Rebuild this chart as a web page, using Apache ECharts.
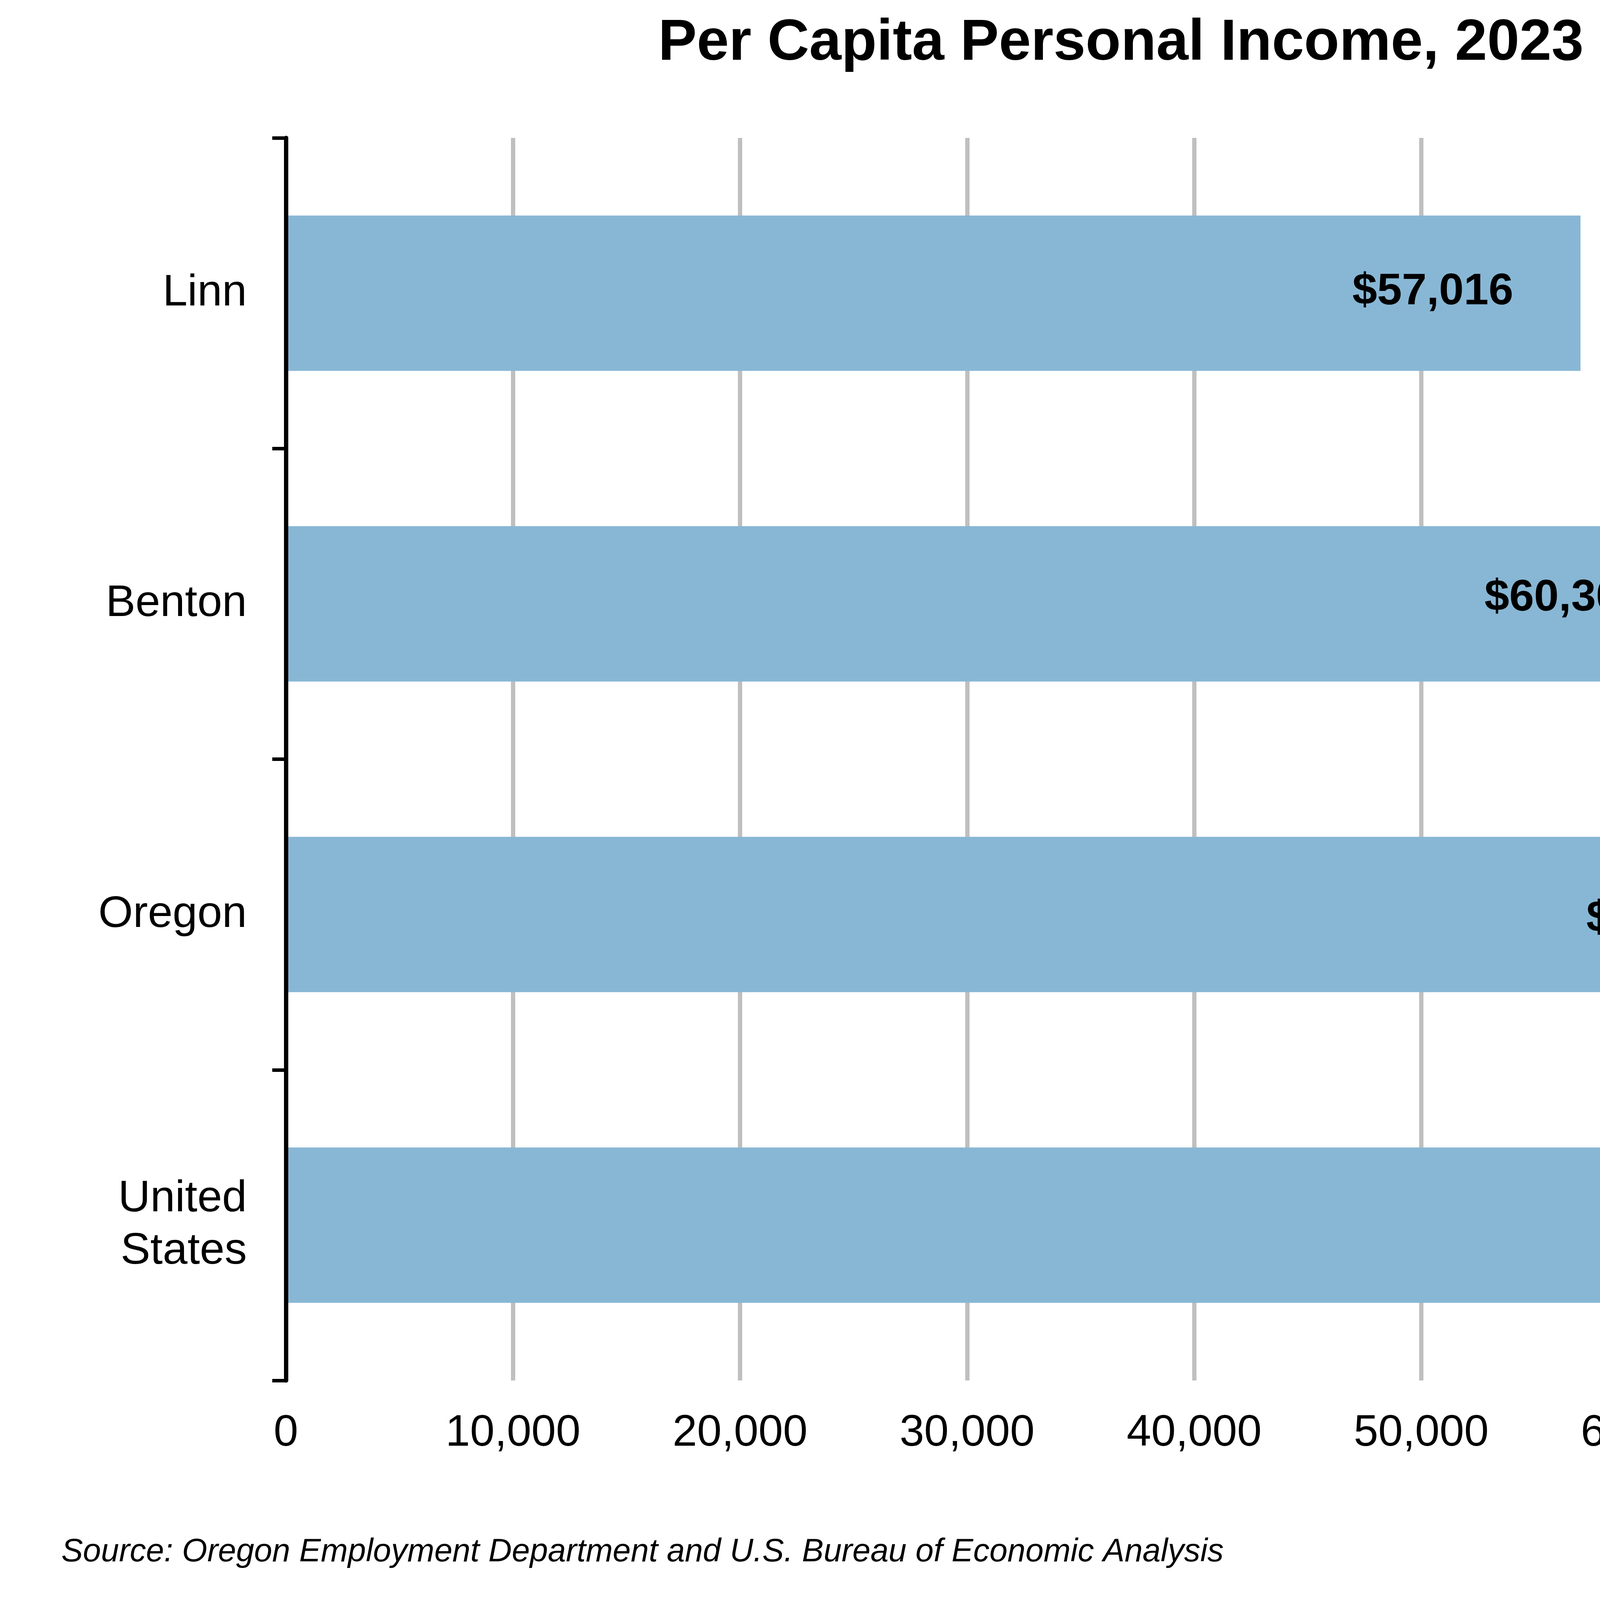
<!DOCTYPE html>
<html>
<head>
<meta charset="utf-8">
<title>Per Capita Personal Income, 2023</title>
<script src="https://cdn.jsdelivr.net/npm/echarts@6/dist/echarts.min.js"></script>
<style>
    html, body { margin: 0; padding: 0; background: #fff; }
    #incomeChart { width: 5683px; height: 4113px; }
</style>
</head>
<body>
<div id="incomeChart"></div>
<script>
// data
var areaNames = ['Linn', 'Benton', 'Oregon', 'United States'];
var incomeValues = [57016, 60307, 67838, 69810];
var xTickValues = [0, 10000, 20000, 30000, 40000, 50000, 60000, 70000, 80000];

// label nudges (the source placed each value label by hand)
var labelGap = [172, 25, 202, 168];
var labelDy = [-3, -14, 12, -1];

var fontName = 'Liberation Sans, Arial, sans-serif';
var barColor = '#88B7D5';

var incomeChart = echarts.init(document.getElementById('incomeChart'));

var barData = incomeValues.map(function (v, i) {
    return {
        value: v,
        label: { offset: [-labelGap[i], labelDy[i]] }
    };
});

incomeChartOption = {
    backgroundColor: '#ffffff',
    animation: false,
    title: {
        text: 'Per Capita Personal Income, 2023',
        left: 1680,
        top: 33,
        textStyle: {
            fontFamily: fontName,
            fontSize: 148,
            fontWeight: 'bold',
            color: '#000'
        }
    },
    grid: {
        left: 732,
        right: 301,
        top: 353,
        bottom: 579,
        containLabel: false
    },
    xAxis: {
        type: 'value',
        min: xTickValues[0],
        max: xTickValues[xTickValues.length - 1],
        interval: xTickValues[1] - xTickValues[0],
        axisLine: { show: false },
        axisTick: { show: false },
        axisLabel: {
            margin: 79,
            fontFamily: fontName,
            fontSize: 113,
            color: '#000',
            formatter: function (v) {
                return v.toLocaleString('en-US');
            }
        },
        splitLine: {
            show: true,
            lineStyle: { color: '#BFBFBF', width: 11 }
        }
    },
    yAxis: {
        type: 'category',
        data: areaNames,
        inverse: true,
        z: 5,
        axisLine: {
            show: true,
            lineStyle: { color: '#000', width: 11 }
        },
        axisTick: {
            show: true,
            inside: false,
            length: 35,
            lineStyle: { color: '#000', width: 9 }
        },
        axisLabel: {
            margin: 100,
            fontFamily: fontName,
            fontSize: 114,
            lineHeight: 134,
            color: '#000',
            formatter: function (v) {
                return v.replace(' ', '\n');
            }
        },
        splitLine: { show: false }
    },
    series: [
        {
            name: 'Per capita income',
            type: 'bar',
            barWidth: '50%',
            itemStyle: { color: barColor },
            label: {
                show: true,
                position: 'insideRight',
                distance: 0,
                fontFamily: fontName,
                fontSize: 114,
                fontWeight: 'bold',
                color: '#000',
                formatter: function (p) {
                    return '$' + p.value.toLocaleString('en-US');
                }
            },
            data: barData
        }
    ],
    graphic: [
        {
            type: 'text',
            left: 157,
            top: 3974 - 42,
            style: {
                text: 'Source: Oregon Employment Department and U.S. Bureau of Economic Analysis',
                fontFamily: fontName,
                fontSize: 83,
                fontStyle: 'italic',
                fill: '#000'
            }
        }
    ]
};

incomeChart.setOption(incomeChartOption);
</script>
</body>
</html>
